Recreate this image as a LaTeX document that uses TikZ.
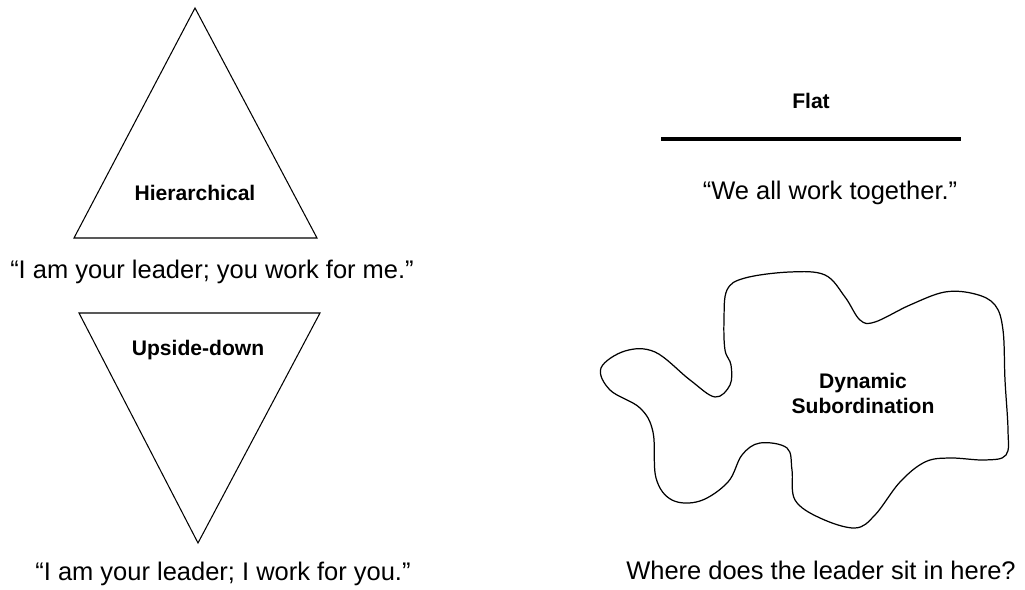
\documentclass[tikz,border=0pt]{standalone}
\usepackage{fontspec}
\setmainfont{Liberation Sans}
\usetikzlibrary{calc}

\begin{document}
\begin{tikzpicture}[x=0.02cm, y=-0.02cm,
    % Define the styles for the labels
    title/.style={font=\bfseries\fontsize{12}{14.2}\selectfont, align=center},
    saying/.style={anchor=base, font=\fontsize{14.5}{17}\selectfont}
]
\useasboundingbox (0,0) rectangle (1025,590);

% Define the points of the triangles
\coordinate (T) at (195,8);
\coordinate (L) at (74,238);
\coordinate (R) at (317,238);
\coordinate (UL) at (79,313);
\coordinate (UR) at (320,313);
\coordinate (UB) at (198,543);

% Draw the triangles
\draw[line width=0.6pt] (T) -- (L) -- (R) -- cycle;
\draw[line width=0.6pt] (UL) -- (UR) -- (UB) -- cycle;

% Draw the flat line
\coordinate (FL) at (661,139);
\coordinate (FR) at (961,139);
\draw[line width=2.8pt] (FL) -- (FR);

% Draw the blob
\draw[line width=0.7pt] plot[smooth cycle, tension=0.6] coordinates {
    (724,320) (727,290) (745,278) (790,272) (825,275) (845,297)
    (860,320) (875,322) (910,305) (945,292) (975,294) (995,305)
    (1003,330) (1005,380) (1008,430) (1006,455) (985,460) (950,458)
    (925,462) (900,482) (875,515)
    (855,528) (820,518) (795,500) (792,470) (787,448) (760,443)
    (742,455) (728,482) (700,501) (672,500) (656,478) (653,432)
    (640,408) (610,390) (601,368) (625,351) (655,352) (690,380)
    (715,397) (730,385) (731,365) (725,350)};

% Add the labels
\node[title] (hier) at (195,193) {Hierarchical};
\node[title] (upside) at (198,350) {Upside-down};
\node[title] (flat) at (811,101) {Flat};
\node[title] (dyn) at (863,393) {Dynamic\\Subordination};

% Add the sayings
\node[saying] (boss) at (212,279) {“I am your leader; you work for me.”};
\node[saying] (servant) at (223,581) {“I am your leader; I work for you.”};
\node[saying] (together) at (830,200) {“We all work together.”};
\node[saying] (where) at (821,580) {Where does the leader sit in here?};

\end{tikzpicture}
\end{document}
